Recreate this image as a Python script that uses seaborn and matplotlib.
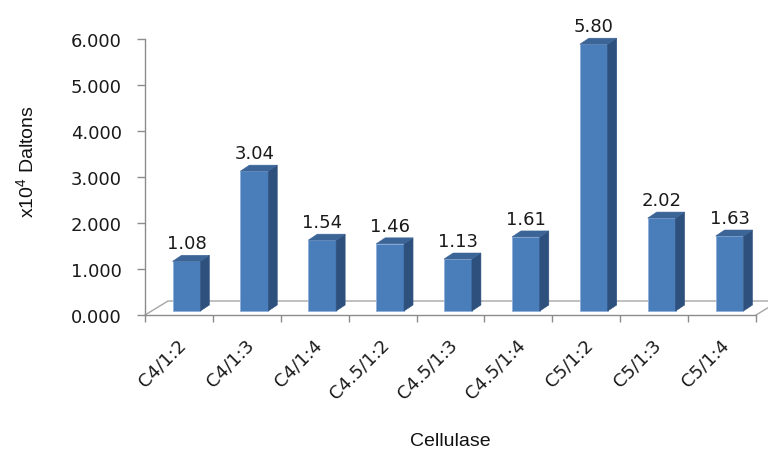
import numpy as np
import pandas as pd
import matplotlib
matplotlib.use("Agg")
import matplotlib.pyplot as plt
import matplotlib.transforms as mtransforms
from matplotlib.patches import Polygon
from matplotlib.lines import Line2D
import seaborn as sns

# data
categories = ["C4/1:2", "C4/1:3", "C4/1:4", "C4.5/1:2", "C4.5/1:3",
              "C4.5/1:4", "C5/1:2", "C5/1:3", "C5/1:4"]
values = [1.08, 3.04, 1.54, 1.46, 1.13, 1.61, 5.80, 2.02, 1.63]
y_ticks = [0, 1, 2, 3, 4, 5, 6]

FRONT = "#4a7ebb"
SIDE = "#2e507d"
TOP = "#3b6497"
AXIS_GRAY = "#8c8c8c"

sns.set_theme(style="white")
plt.rcParams["font.family"] = ["DejaVu Sans"]
plt.rcParams["mathtext.default"] = "regular"

DPI = 100
fig = plt.figure(figsize=(7.68, 4.52), dpi=DPI)
# axes box: x 145..756 px, y 40..316 px
ax = fig.add_axes([145 / 768, (452 - 316) / 452, (756 - 145) / 768, (316 - 40) / 452])

df = pd.DataFrame({"cat": categories, "val": values})
sns.barplot(data=df, x="cat", y="val", color=FRONT, saturation=1, width=0.41,
            edgecolor="#8fb0dc", linewidth=0.6, ax=ax, zorder=3)

ax.set_xlim(-0.5, len(categories) - 0.5)
ax.set_ylim(0, 6)

# pseudo 3D: push the front faces back onto the floor and add side / top faces
px = 1.0 / DPI
shift_x, shift_y = 7.5, 4      # pixels (right, up)
dep_x, dep_y = 9, 6            # bar depth in pixels
bar_shift = mtransforms.ScaledTranslation(shift_x * px, shift_y * px, fig.dpi_scale_trans)
for patch in list(ax.patches):
    patch.set_transform(ax.transData + bar_shift)
    x0 = patch.get_x()
    x1 = x0 + patch.get_width()
    h = patch.get_height()
    (bx0, by0), (bx1, _), (_, byh) = ax.transData.transform([(x0, 0), (x1, 0), (x1, h)])
    bx0 += shift_x
    bx1 += shift_x
    by0 += shift_y
    byh += shift_y
    side = Polygon([(bx1, by0), (bx1, byh), (bx1 + dep_x, byh + dep_y), (bx1 + dep_x, by0 + dep_y)],
                   closed=True, facecolor=SIDE, edgecolor=SIDE, lw=0.4,
                   transform=mtransforms.IdentityTransform(), zorder=3, clip_on=False)
    top = Polygon([(bx0, byh), (bx1, byh), (bx1 + dep_x, byh + dep_y), (bx0 + dep_x, byh + dep_y)],
                  closed=True, facecolor=TOP, edgecolor=TOP, lw=0.4,
                  transform=mtransforms.IdentityTransform(), zorder=3, clip_on=False)
    ax.add_patch(side)
    ax.add_patch(top)

# floor of the 3D plot
(fx0, fy0), (fx1, _) = ax.transAxes.transform([(0, 0), (1, 0)])
fd_x, fd_y = 23, 14
floor_pts = [(fx0, fy0), (fx0 + fd_x, fy0 + fd_y), (fx1 + fd_x, fy0 + fd_y), (fx1, fy0)]
floor = Line2D([p[0] for p in floor_pts], [p[1] for p in floor_pts], color="#a6a6a6", lw=1.0,
               transform=mtransforms.IdentityTransform(), zorder=1, clip_on=False)
ax.add_line(floor)

# value labels
for i, v in enumerate(values):
    ax.annotate(f"{v:.2f}", xy=(i, v), xytext=(shift_x * 0.72, (shift_y + 18) * 0.72),
                textcoords="offset points", ha="center", va="center",
                fontsize=13, color="#1a1a1a", zorder=4)

# axes styling
sns.despine(ax=ax, top=True, right=True)
ax.spines["left"].set_color(AXIS_GRAY)
ax.spines["bottom"].set_color(AXIS_GRAY)
ax.spines["left"].set_linewidth(1.0)
ax.spines["bottom"].set_linewidth(1.0)

ax.set_yticks(y_ticks)
ax.set_yticklabels([f"{t:.3f}" for t in y_ticks])
ax.tick_params(axis="y", direction="out", length=5.8, width=1.0, color=AXIS_GRAY,
               pad=10.8, labelsize=13, labelcolor="#1a1a1a", left=True)

ax.set_xticks(range(len(categories)))
ax.set_xticklabels(categories, rotation=45, ha="right", va="center", rotation_mode="anchor")
ax.set_xticks(np.arange(-0.5, len(categories)), minor=True)
ax.tick_params(axis="x", which="major", length=0, pad=19, labelsize=13, labelcolor="#1a1a1a")
ax.tick_params(axis="x", which="minor", direction="out", length=5.0, width=1.0,
               color=AXIS_GRAY, bottom=True)
lab_shift = mtransforms.ScaledTranslation(4 * px, 0, fig.dpi_scale_trans)
for lab in ax.get_xticklabels():
    lab.set_transform(lab.get_transform() + lab_shift)

ax.set_xlabel("Cellulase", family=["Liberation Sans"], fontsize=14, color="#111111", va="top")
ax.xaxis.set_label_coords(0.5, (316 - 433) / 276)
ax.set_ylabel("x10$^4$ Daltons", family=["Liberation Sans"], fontsize=14, color="#111111")
ax.yaxis.set_label_coords((37 - 145) / 611, (316 - 162) / 276)

fig.savefig("out.png", dpi=DPI)
